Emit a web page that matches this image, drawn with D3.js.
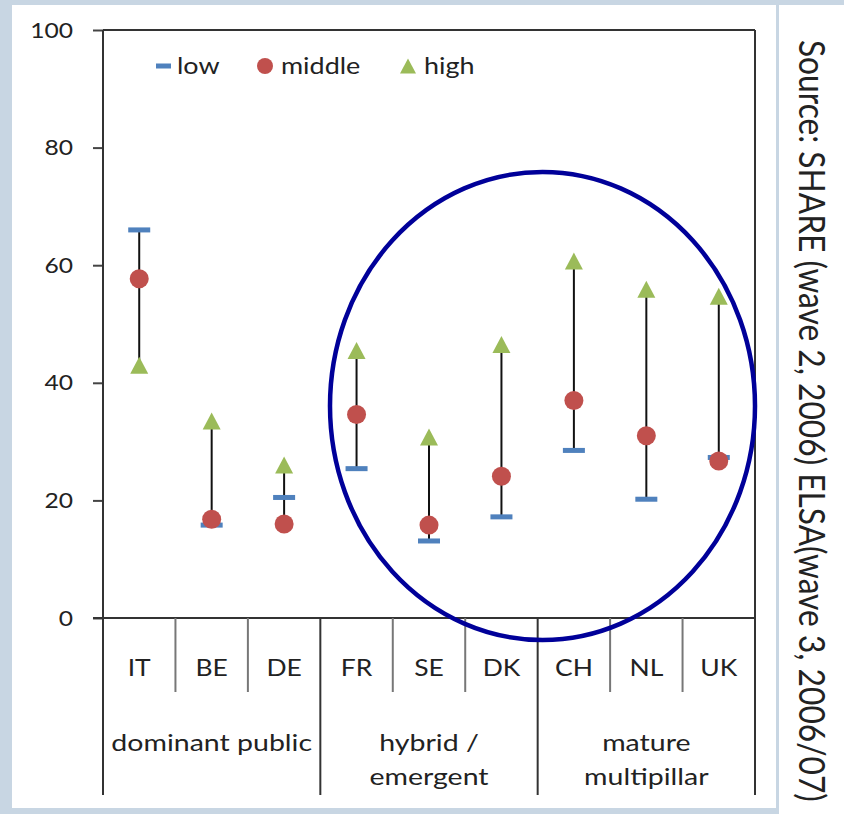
<!DOCTYPE html>
<html>
<head>
<meta charset="utf-8">
<script src="https://cdn.jsdelivr.net/npm/d3@7"></script>
<style>
  html, body { margin: 0; padding: 0; background: #c8d6e3; }
  svg { display: block; }
  text { font-family: Lato, "Open Sans", sans-serif; fill: #222; }
</style>
</head>
<body>
<svg id="chart" width="844" height="814"></svg>
<script>
// ---- data ----
const countries = ["IT", "BE", "DE", "FR", "SE", "DK", "CH", "NL", "UK"];
const lowValues = [66.0, 15.8, 20.5, 25.4, 13.1, 17.2, 28.5, 20.2, 27.3];
const middleValues = [57.7, 16.8, 16.0, 34.6, 15.8, 24.1, 37.0, 31.0, 26.7];
const highValues = [43.0, 33.5, 26.0, 45.5, 30.8, 46.5, 60.7, 55.9, 54.7];
const groupNames = [["dominant public"], ["hybrid /", "emergent"], ["mature", "multipillar"]];
const groupMembers = [["IT", "BE", "DE"], ["FR", "SE", "DK"], ["CH", "NL", "UK"]];
const yTicks = [0, 20, 40, 60, 80, 100];
const seriesNames = ["low", "middle", "high"];
const sourceText = "Source: SHARE (wave 2, 2006) ELSA(wave 3, 2006/07)";

const colors = { low: "#4f81bd", middle: "#c0504d", high: "#9bbb59" };

(function () {
const svg = d3.select("#chart");

// background panels
svg.append("rect").attr("x", 0).attr("y", 0).attr("width", 844).attr("height", 814).attr("fill", "#c8d6e3");
svg.append("rect").attr("x", 12).attr("y", 5).attr("width", 764).attr("height", 803).attr("fill", "#fff");
svg.append("rect").attr("x", 779).attr("y", 5).attr("width", 65).attr("height", 809).attr("fill", "#fff");

const pLeft = 103, pRight = 755, pTop = 30, pBottom = 618;
const x = d3.scaleBand().domain(countries).range([pLeft, pRight]).padding(0);
const y = d3.scaleLinear().domain([0, 100]).range([pBottom, pTop]);

const g = svg.append("g");

// y axis
const yAxis = d3.axisLeft(y).tickValues(yTicks).tickSize(10).tickPadding(20).tickFormat(d3.format("d"));
const ya = g.append("g").attr("transform", `translate(${pLeft},0)`).call(yAxis);
ya.select(".domain").remove();
ya.selectAll(".tick line").attr("stroke", "#444").attr("stroke-width", 2);
ya.selectAll(".tick text").attr("font-size", 22).attr("font-family", "Lato, sans-serif").attr("fill", "#222")
  .attr("transform", "scale(1.12,1)").attr("x", -30 / 1.12);

// frame
const frameColor = "#333";
g.append("line").attr("x1", pLeft).attr("x2", pRight).attr("y1", pTop).attr("y2", pTop).attr("stroke", frameColor).attr("stroke-width", 2);
g.append("line").attr("x1", pRight).attr("x2", pRight).attr("y1", pTop).attr("y2", pBottom).attr("stroke", frameColor).attr("stroke-width", 2);
g.append("line").attr("x1", pLeft - 10).attr("x2", pRight).attr("y1", pBottom).attr("y2", pBottom).attr("stroke", frameColor).attr("stroke-width", 2);
g.append("line").attr("x1", pLeft).attr("x2", pLeft).attr("y1", pTop).attr("y2", 795).attr("stroke", frameColor).attr("stroke-width", 2);

// category separators
const groupEnds = groupMembers.map(m => m[m.length - 1]);
countries.forEach((c) => {
  const xr = x(c) + x.bandwidth();
  const isGroup = groupEnds.includes(c);
  g.append("line").attr("x1", xr).attr("x2", xr).attr("y1", pBottom).attr("y2", isGroup ? 795 : 692)
    .attr("stroke", isGroup ? "#333" : "#777").attr("stroke-width", 2);
});

// category labels
g.selectAll(".cat").data(countries).enter().append("text")
  .attr("class", "cat")
  .attr("transform", d => `translate(${x(d) + x.bandwidth() / 2},676) scale(1.15,1)`)
  .attr("text-anchor", "middle").attr("font-size", 23).text(d => d);

// group labels
groupMembers.forEach((m, gi) => {
  const cx = (x(m[0]) + x(m[m.length - 1]) + x.bandwidth()) / 2;
  groupNames[gi].forEach((line, li) => {
    g.append("text").attr("transform", `translate(${cx},${751 + li * 34}) scale(1.24,1)`)
      .attr("text-anchor", "middle").attr("font-size", 23).text(line);
  });
});

// data rows
const rows = countries.map((c, i) => ({ c, low: lowValues[i], middle: middleValues[i], high: highValues[i] }));

// range lines
g.selectAll(".rng").data(rows).enter().append("line")
  .attr("x1", d => x(d.c) + x.bandwidth() / 2).attr("x2", d => x(d.c) + x.bandwidth() / 2)
  .attr("y1", d => y(Math.max(d.low, d.middle, d.high))).attr("y2", d => y(Math.min(d.low, d.middle, d.high)))
  .attr("stroke", "#111").attr("stroke-width", 2);

const triPath = (cx, cy, w, h) => `M${cx},${cy - h / 2}L${cx + w / 2},${cy + h / 2}L${cx - w / 2},${cy + h / 2}Z`;

// low markers (dash)
g.selectAll(".low").data(rows).enter().append("rect")
  .attr("x", d => x(d.c) + x.bandwidth() / 2 - 11).attr("y", d => y(d.low) - 2.5)
  .attr("width", 22).attr("height", 5).attr("fill", colors.low);
// high markers (triangle)
g.selectAll(".high").data(rows).enter().append("path")
  .attr("d", d => triPath(x(d.c) + x.bandwidth() / 2, y(d.high), 18, 17)).attr("fill", colors.high);
// middle markers (circle)
g.selectAll(".mid").data(rows).enter().append("circle")
  .attr("cx", d => x(d.c) + x.bandwidth() / 2).attr("cy", d => y(d.middle)).attr("r", 9.5).attr("fill", colors.middle);

// legend
const ly = 66;
const legendX = { low: 156, middle: 257, high: 400 };
seriesNames.forEach(s => {
  const lx = legendX[s];
  if (s === "low") g.append("rect").attr("x", lx).attr("y", ly - 2.5).attr("width", 15).attr("height", 5).attr("fill", colors.low);
  if (s === "middle") g.append("circle").attr("cx", lx + 8).attr("cy", ly).attr("r", 8).attr("fill", colors.middle);
  if (s === "high") g.append("path").attr("d", triPath(lx + 8, ly, 16, 15)).attr("fill", colors.high);
  g.append("text").attr("transform", `translate(${lx + (s === "low" ? 21 : 24)},${ly + 8}) scale(1.17,1)`)
    .attr("font-size", 23).text(s);
});

// ellipse highlight
g.append("ellipse").attr("cx", 542.5).attr("cy", 406).attr("rx", 212.5).attr("ry", 234)
  .attr("fill", "none").attr("stroke", "#000099").attr("stroke-width", 4.5);

// right panel separator
svg.append("rect").attr("x", 776).attr("y", 5).attr("width", 3).attr("height", 809).attr("fill", "#c8d6e3");

// source text (rotated, horizontally condensed via scale)
const src = svg.append("text")
  .attr("font-family", "'Liberation Sans Narrow', 'DejaVu Sans Condensed', sans-serif")
  .attr("font-size", 36).attr("fill", "#222").text(sourceText);
const natural = src.node().getComputedTextLength();
const sx = 762 / natural;
src.attr("transform", `translate(799,40) rotate(90) scale(${sx},1)`);
})();
</script>
</body>
</html>
